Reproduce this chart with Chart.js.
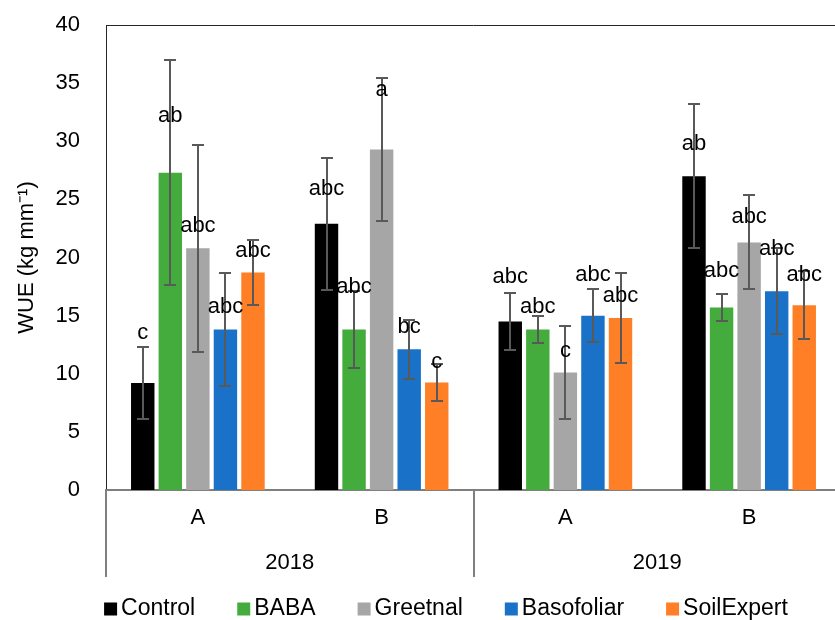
<!DOCTYPE html>
<html>
<head>
<meta charset="utf-8">
<script src="https://cdn.jsdelivr.net/npm/chart.js@4.4.0/dist/chart.umd.min.js"></script>
<style>
    html, body { margin: 0; padding: 0; background: #fff; overflow: hidden; }
    #wrap { width: 850px; height: 620px; }
</style>
</head>
<body>
<div id="wrap"><canvas id="chart1" width="850" height="620"></canvas></div>
<script>
// sub categories and years
const categories = ['A', 'B', 'A', 'B'];
const years = ['2018', '2019'];
const yTicks = [0, 5, 10, 15, 20, 25, 30, 35, 40];

// means
const control = [9.2, 22.9, 14.5, 27.0];
const baba = [27.3, 13.8, 13.8, 15.7];
const greetnal = [20.8, 29.3, 10.1, 21.3];
const basofoliar = [13.8, 12.1, 15.0, 17.1];
const soilExpert = [18.7, 9.25, 14.8, 15.9];

// error (+/-)
const controlErr = [3.1, 5.7, 2.45, 6.2];
const babaErr = [9.7, 3.3, 1.15, 1.15];
const greetnalErr = [8.9, 6.15, 4.0, 4.05];
const basofoliarErr = [4.85, 2.55, 2.3, 3.7];
const soilExpertErr = [2.8, 1.6, 3.9, 2.9];

// significance letters
const controlLetters = ['c', 'abc', 'abc', 'ab'];
const babaLetters = ['ab', 'abc', 'abc', 'abc'];
const greetnalLetters = ['abc', 'a', 'c', 'abc'];
const basofoliarLetters = ['abc', 'bc', 'abc', 'abc'];
const soilExpertLetters = ['abc', 'c', 'abc', 'abc'];

const FONT = "'Liberation Sans', Arial, sans-serif";

// how far (px) each letter sits above its bar top
const letterLift = [
    [50, 35, 45, 32],
    [57, 43, 23, 37],
    [22, 59, 22, 25],
    [23, 22, 41, 42],
    [22, 21, 22, 30]
];

const errorBars = {
    id: 'errorBars',
    afterDatasetsDraw: function (chart) {
        const ctx = chart.ctx;
        const y = chart.scales.y;
        ctx.save();
        ctx.strokeStyle = '#595959';
        ctx.lineWidth = 2;
        chart.data.datasets.forEach(function (ds, i) {
            chart.getDatasetMeta(i).data.forEach(function (bar, j) {
                const v = ds.data[j], e = ds.errors[j];
                const top = Math.round(y.getPixelForValue(v + e));
                const bot = Math.round(y.getPixelForValue(v - e));
                const x = Math.round(bar.x);
                ctx.beginPath();
                ctx.moveTo(x, top); ctx.lineTo(x, bot);
                ctx.moveTo(x - 6, top); ctx.lineTo(x + 6, top);
                ctx.moveTo(x - 6, bot); ctx.lineTo(x + 6, bot);
                ctx.stroke();
            });
        });
        ctx.restore();
    }
};

const letterLabels = {
    id: 'letterLabels',
    afterDatasetsDraw: function (chart) {
        const ctx = chart.ctx;
        ctx.save();
        ctx.font = '22px ' + FONT;
        ctx.fillStyle = '#000';
        ctx.textAlign = 'center';
        ctx.textBaseline = 'middle';
        chart.data.datasets.forEach(function (ds, i) {
            chart.getDatasetMeta(i).data.forEach(function (bar, j) {
                ctx.fillText(ds.letters[j], bar.x, bar.y - letterLift[i][j]);
            });
        });
        ctx.restore();
    }
};

const groupAxis = {
    id: 'groupAxis',
    afterDraw: function (chart) {
        const ctx = chart.ctx;
        const x = chart.scales.x;
        const area = chart.chartArea;
        ctx.save();

        // frame top / right
        ctx.strokeStyle = '#262626';
        ctx.lineWidth = 1;
        ctx.beginPath();
        ctx.moveTo(area.left, area.top + 0.5);
        ctx.lineTo(area.right, area.top + 0.5);
        ctx.lineTo(area.right, area.bottom);
        ctx.stroke();

        // dividers between the years
        const bottom = area.bottom + 87;
        const mid = (x.getPixelForValue(1) + x.getPixelForValue(2)) / 2;
        ctx.strokeStyle = '#7f7f7f';
        ctx.lineWidth = 2;
        ctx.beginPath();
        [area.left, mid, area.right].forEach(function (px) {
            ctx.moveTo(Math.round(px), area.bottom);
            ctx.lineTo(Math.round(px), bottom);
        });
        ctx.stroke();

        // year labels
        ctx.font = '22px ' + FONT;
        ctx.fillStyle = '#000';
        ctx.textAlign = 'center';
        ctx.textBaseline = 'middle';
        years.forEach(function (yr, k) {
            const cx = (x.getPixelForValue(k * 2) + x.getPixelForValue(k * 2 + 1)) / 2;
            ctx.fillText(yr, cx, area.bottom + 73);
        });

        // legend
        ctx.font = '23px ' + FONT;
        const ds = chart.data.datasets;
        const box = 13, gap = 4, space = 42;
        let total = 0;
        ds.forEach(function (d) { total += box + gap + ctx.measureText(d.label).width; });
        total += space * (ds.length - 1);
        let lx = 446 - total / 2;
        const ly = 609;
        ctx.textAlign = 'left';
        ds.forEach(function (d) {
            ctx.fillStyle = d.backgroundColor;
            ctx.fillRect(lx, ly - box / 2, box, box);
            ctx.fillStyle = '#000';
            ctx.fillText(d.label, lx + box + gap, ly);
            lx += box + gap + ctx.measureText(d.label).width + space;
        });
        ctx.restore();
    }
};

function makeSet(label, data, errors, letters, color) {
    return {
        label: label,
        data: data,
        errors: errors,
        letters: letters,
        backgroundColor: color,
        borderWidth: 0,
        barPercentage: 0.85,
        categoryPercentage: 0.75
    };
}

const ctx = document.getElementById('chart1');
const myChart = new Chart(ctx, {
    type: 'bar',
    data: {
        labels: categories,
        datasets: [
            makeSet('Control', control, controlErr, controlLetters, '#000000'),
            makeSet('BABA', baba, babaErr, babaLetters, '#44AC3C'),
            makeSet('Greetnal', greetnal, greetnalErr, greetnalLetters, '#A6A6A6'),
            makeSet('Basofoliar', basofoliar, basofoliarErr, basofoliarLetters, '#1A72C8'),
            makeSet('SoilExpert', soilExpert, soilExpertErr, soilExpertLetters, '#FF7F27')
        ]
    },
    options: {
        responsive: false,
        animation: false,
        devicePixelRatio: 1,
        layout: { padding: { left: 12, right: 9, top: 25, bottom: 0 } },
        plugins: {
            legend: { display: false },
            tooltip: { enabled: false }
        },
        scales: {
            y: {
                min: 0,
                max: 40,
                afterFit: function (scale) {
                    scale.width = 94;
                    // tick padding should not push the plot top down
                    scale.paddingTop = 0;
                    scale.paddingBottom = 0;
                },
                afterBuildTicks: function (scale) {
                    scale.ticks = yTicks.map(function (v) { return { value: v }; });
                },
                grid: { display: false, drawTicks: false },
                border: { display: true, color: '#262626', width: 1 },
                ticks: {
                    padding: 26,
                    color: '#000',
                    font: { family: FONT, size: 22 }
                },
                title: {
                    display: true,
                    text: 'WUE (kg mm\u207B\u00B9)',
                    color: '#000',
                    padding: { top: 2, bottom: 0 },
                    font: { family: FONT, size: 22 }
                }
            },
            x: {
                afterFit: function (scale) { scale.height = 130; },
                grid: { display: false, drawTicks: false },
                border: { display: true, color: '#7f7f7f', width: 2 },
                ticks: {
                    padding: 15,
                    color: '#000',
                    font: { family: FONT, size: 22 }
                }
            }
        }
    },
    plugins: [errorBars, letterLabels, groupAxis]
});
</script>
</body>
</html>
